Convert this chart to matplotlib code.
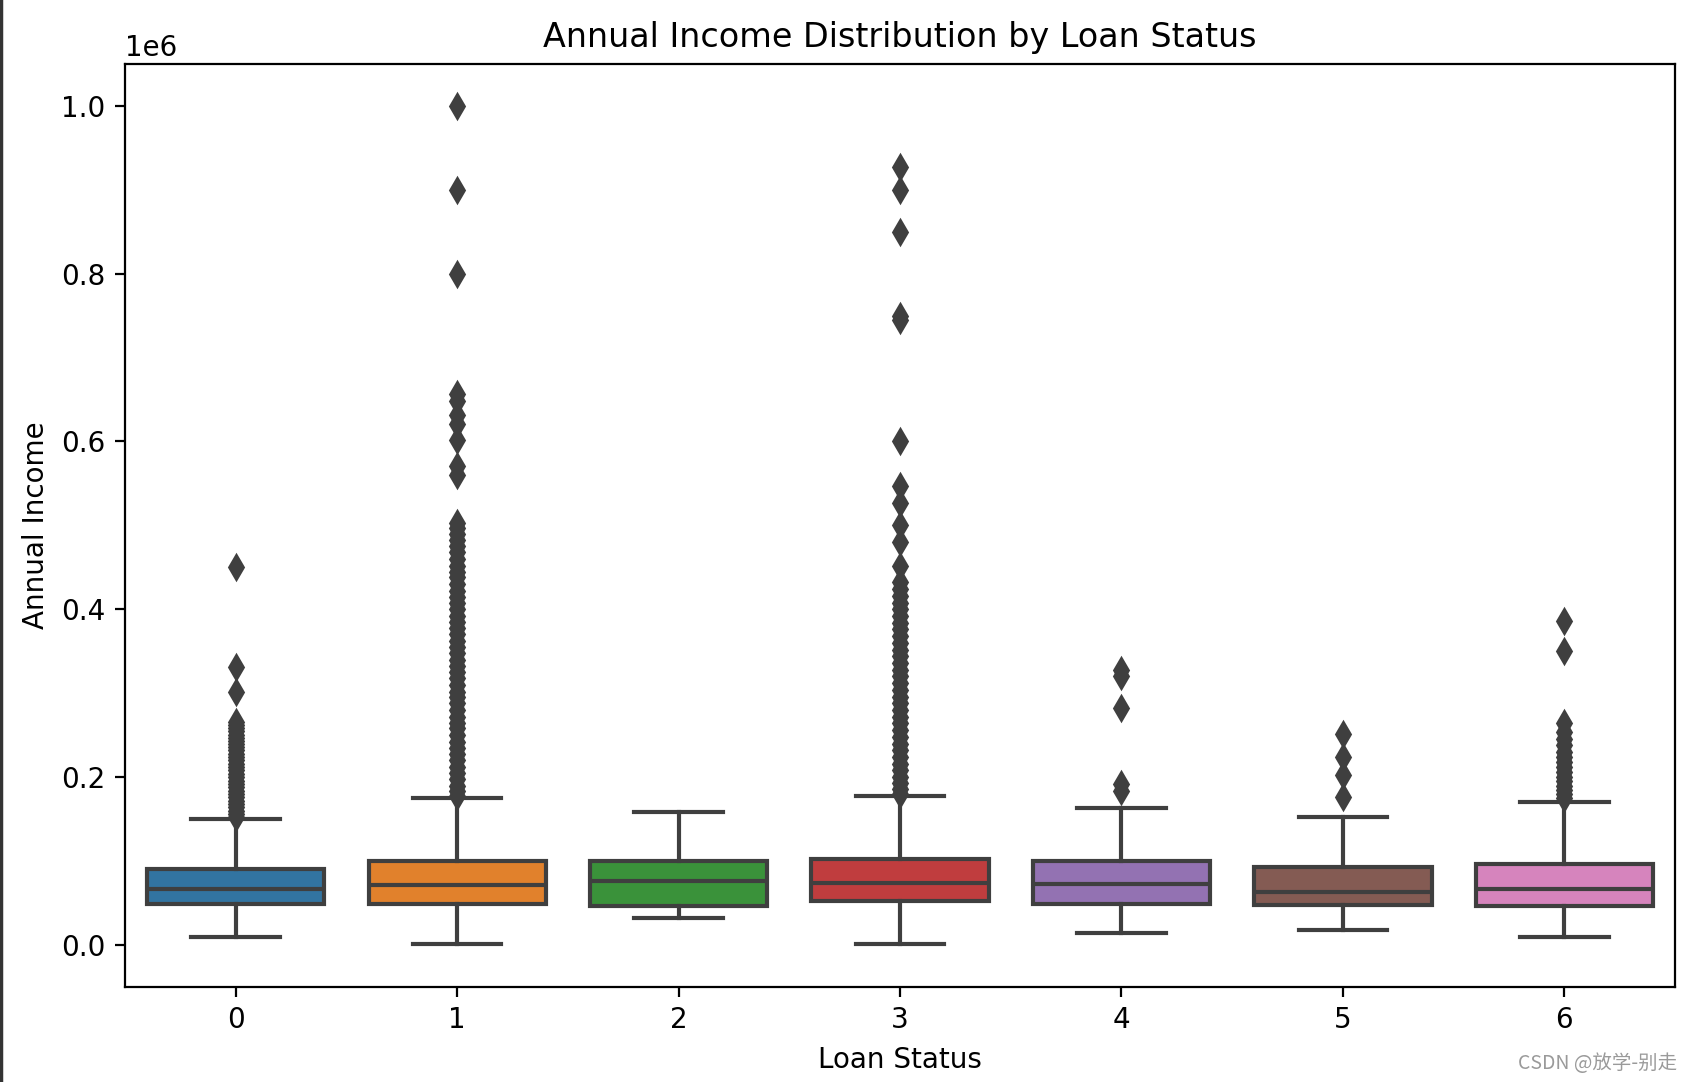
import matplotlib
matplotlib.use("Agg")
from matplotlib import pyplot as plt
from matplotlib.lines import Line2D

# scale factor from a normal 100 dpi notebook figure to this screenshot
S = 2.0

loan_status = ["0", "1", "2", "3", "4", "5", "6"]

# box statistics (annual income)
q1 = [48900, 48900, 46100, 52400, 48400, 47200, 46500]
med = [66300, 71100, 75800, 73800, 73000, 63200, 66300]
q3 = [90100, 99600, 99600, 102000, 99600, 92900, 96800]
whis_lo = [9200, 1700, 32600, 1700, 13900, 17500, 9600]
whis_hi = [149600, 175700, 159000, 177700, 163800, 152400, 171000]

# outliers, in thousands
fliers_0 = [450, 331, 302, 266, 262, 258, 255, 250, 247, 243, 240, 236, 232, 228,
            224, 220, 216, 212, 208, 204, 200, 196, 192, 188, 184, 180, 176, 172,
            168, 164, 160, 156, 152]
fliers_1 = [1000, 900, 800, 657, 648, 632, 621, 602, 571, 560, 503, 497, 490, 482,
            475, 468, 460, 452, 445, 438, 430, 422, 415, 408, 400, 392, 385, 378,
            370, 362, 355, 348, 340, 332, 325, 318, 310, 302, 295, 288, 280, 272,
            265, 258, 250, 242, 235, 228, 220, 212, 205, 198, 190, 184, 178]
fliers_2 = []
fliers_3 = [927, 900, 850, 750, 745, 600, 547, 527, 501, 480, 452, 432, 424, 416,
            408, 400, 392, 384, 376, 368, 360, 352, 344, 336, 328, 320, 312, 304,
            296, 288, 280, 272, 264, 256, 248, 240, 232, 224, 216, 208, 200, 193,
            186, 180]
fliers_4 = [328, 321, 282, 192, 183]
fliers_5 = [251, 224, 202, 176]
fliers_6 = [386, 350, 265, 254, 245, 238, 230, 224, 218, 212, 206, 200, 195, 190,
            185, 180, 175]
fliers = [fliers_0, fliers_1, fliers_2, fliers_3, fliers_4, fliers_5, fliers_6]

colors = ["#3274a1", "#e1812c", "#3a923a", "#c03d3e", "#9372b2", "#845b53", "#d684bd"]
gray = "#3f3f3f"

stats = []
for i in range(len(loan_status)):
    stats.append(dict(q1=q1[i], med=med[i], q3=q3[i], whislo=whis_lo[i],
                      whishi=whis_hi[i], fliers=[v * 1000 for v in fliers[i]]))

fig = plt.figure(figsize=(16.92, 10.82), dpi=100)
ax = fig.add_axes([0.0739, 0.0878, 0.9161, 0.8533])

lw = 1.5 * S
bp = ax.bxp(stats, positions=range(len(loan_status)), widths=0.8, patch_artist=True,
            boxprops=dict(edgecolor=gray, linewidth=lw),
            medianprops=dict(color=gray, linewidth=lw),
            whiskerprops=dict(color=gray, linewidth=lw),
            capprops=dict(color=gray, linewidth=lw),
            flierprops=dict(marker="d", markerfacecolor=gray, markeredgecolor=gray,
                            markersize=6 * S, markeredgewidth=1.0 * S,
                            linestyle="none"))
for patch, c in zip(bp["boxes"], colors):
    patch.set_facecolor(c)

ax.set_xlim(-0.5, 6.5)
ax.set_ylim(-50000, 1050000)
ax.set_xticks(range(len(loan_status)))
ax.set_xticklabels(loan_status)

ax.tick_params(labelsize=10 * S, width=0.8 * S, length=3.5 * S, pad=3.5 * S)
ax.yaxis.get_offset_text().set_visible(False)
ax.text(0.0, 1.002, "1e6", transform=ax.transAxes, ha="left", va="bottom",
        fontsize=10 * S)
for sp in ax.spines.values():
    sp.set_linewidth(0.8 * S)

ax.set_title("Annual Income Distribution by Loan Status", fontsize=12 * S, pad=6 * S)
ax.set_xlabel("Loan Status", fontsize=10 * S, labelpad=4 * S)
ax.set_ylabel("Annual Income", fontsize=10 * S, labelpad=4 * S)

# screenshot edge and watermark
fig.add_artist(Line2D([0.0008, 0.0008], [0, 1], color="#333333", linewidth=2.5,
                      transform=fig.transFigure))
fig.text(0.991, 0.007, "CSDN @放学-别走", ha="right", va="bottom", fontsize=14,
         color="#9a9a9a", family=["Noto Sans CJK SC", "DejaVu Sans"])

fig.savefig("out.png", dpi=100)
